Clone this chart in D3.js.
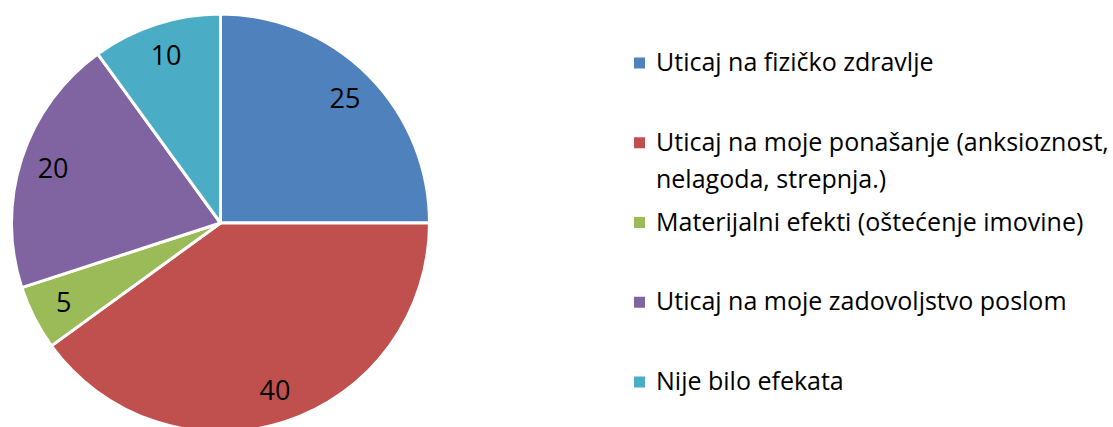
<!DOCTYPE html>
<html>
<head>
<meta charset="utf-8">
<script src="https://cdn.jsdelivr.net/npm/d3@7"></script>
<style>
  html, body { margin: 0; padding: 0; background: #fff; }
  svg { display: block; font-family: "Open Sans", "Noto Sans", sans-serif; }
</style>
</head>
<body>
<svg id="chart" width="1113" height="427"></svg>
<script>
const categories = [
  'Uticaj na fizičko zdravlje',
  'Uticaj na moje ponašanje (anksioznost, nelagoda, strepnja.)',
  'Materijalni efekti (oštećenje imovine)',
  'Uticaj na moje zadovoljstvo poslom',
  'Nije bilo efekata'
];
const values = [25, 40, 5, 20, 10];
const palette = ['#4F81BD', '#C0504D', '#9BBB59', '#8064A2', '#4BACC6'];

const svg = d3.select('#chart');
const cx = 220.5, cy = 223, radius = 209;

const data = categories.map((c, i) => ({ label: c, value: values[i] }));

const color = d3.scaleOrdinal()
  .domain(categories)
  .range(palette);

const pie = d3.pie()
  .value((d) => d.value)
  .sort(null);

const arc = d3.arc()
  .innerRadius(0)
  .outerRadius(radius);

const labelArc = d3.arc()
  .innerRadius(176)
  .outerRadius(176);

const g = svg.append('g')
  .attr('transform', `translate(${cx},${cy})`);

const slices = pie(data);

g.selectAll('path')
  .data(slices)
  .join('path')
  .attr('d', arc)
  .attr('fill', (d) => color(d.data.label))
  .attr('stroke', '#fff')
  .attr('stroke-width', 3)
  .attr('stroke-linejoin', 'round');

g.selectAll('text')
  .data(slices)
  .join('text')
  .attr('transform', (d) => `translate(${labelArc.centroid(d)})`)
  .attr('text-anchor', 'middle')
  .attr('dy', '0.35em')
  .attr('font-size', 27)
  .attr('fill', '#000')
  .text((d) => d.data.value);

// legend
const legendX = 634;
const textX = 656;
const rowY = d3.scalePoint()
  .domain(categories)
  .range([63, 382]);
const maxWidth = 1113 - textX;

const legend = svg.append('g');

categories.forEach((c) => {
  const y = rowY(c);
  legend.append('rect')
    .attr('x', legendX)
    .attr('y', y - 5.5)
    .attr('width', 11)
    .attr('height', 11)
    .attr('fill', color(c));

  const text = legend.append('text')
    .attr('x', textX)
    .attr('y', y + 8)
    .attr('font-size', 25)
    .attr('fill', '#000');

  // simple word wrap
  const words = c.split(' ');
  let line = [];
  let tspan = text.append('tspan').attr('x', textX);
  words.forEach((w) => {
    line.push(w);
    tspan.text(line.join(' '));
    if (tspan.node().getComputedTextLength() > maxWidth && line.length > 1) {
      line.pop();
      tspan.text(line.join(' '));
      line = [w];
      tspan = text.append('tspan').attr('x', textX).attr('dy', 37).text(w);
    }
  });
});
</script>
</body>
</html>
